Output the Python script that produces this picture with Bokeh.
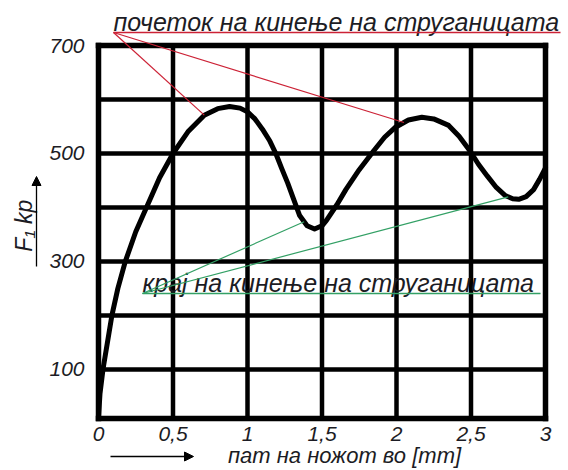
import numpy as np
from bokeh.plotting import figure
from bokeh.models import Range1d, FixedTicker, Label, Arrow, NormalHead
from bokeh.embed import file_html
from bokeh.resources import INLINE

# Cutting force F1 [kp] versus tool path [mm]
path_mm = [0.00, 0.01, 0.03, 0.06, 0.09, 0.13, 0.18, 0.25, 0.33, 0.41, 0.50,
           0.60, 0.71, 0.80, 0.88, 0.95, 1.00, 1.05, 1.10, 1.15, 1.19, 1.23,
           1.27, 1.31, 1.35, 1.40, 1.45, 1.50, 1.53, 1.60, 1.66, 1.75, 1.85,
           1.92, 1.99, 2.08, 2.17, 2.25, 2.35, 2.42, 2.49, 2.55, 2.61, 2.67,
           2.73, 2.78, 2.82, 2.87, 2.92, 2.96, 3.00]
force_kp = [10, 55, 100, 150, 200, 250, 300, 355, 405, 455, 500,
            540, 571, 583, 587, 584, 577, 564, 545, 523, 500, 472,
            445, 415, 385, 366, 360, 366, 376, 405, 433, 470, 506,
            530, 548, 562, 567, 564, 552, 532, 506, 480, 458, 437,
            422, 416, 415, 420, 433, 452, 473]

x_ticks = [0, 0.5, 1, 1.5, 2, 2.5, 3]
x_tick_labels = ["0", "0,5", "1", "1,5", "2", "2,5", "3"]
y_ticks = [100, 200, 300, 400, 500, 600, 700]
y_tick_labels = ["100", "", "300", "", "500", "", "700"]

# where the chip starts / stops tearing (points on the curve)
tear_start_at = [0.71, 2.05]
tear_end_at = [1.38, 2.75]

title_start = "почеток на кинење на струганицата"
title_end = "крај на кинење на струганицата"
x_title = "пат на ножот во [mm]"
y_title = "F₁  kp"

# ---- layout -------------------------------------------------------------
W, H = 568, 470
GX0, GX1, GY0, GY1 = 98, 545, 45, 418      # grid box in canvas pixels
X_MIN, X_MAX = x_ticks[0], x_ticks[-1]
Y_MIN, Y_MAX = 9, y_ticks[-1]               # bottom edge of the grid box
sx = (X_MAX - X_MIN) / (GX1 - GX0)          # data units per pixel
sy = (Y_MAX - Y_MIN) / (GY1 - GY0)
x_range = Range1d(X_MIN - GX0 * sx, X_MAX + (W - GX1) * sx)
y_range = Range1d(Y_MIN - (H - GY1) * sy, Y_MAX + GY0 * sy)


def dx(px):
    return x_range.start + px * sx


def dy(py):
    return y_range.end - py * sy


FONT = "Liberation Sans"
TXT = "#1c1c24"
RED = "#cc2236"
GREEN = "#33a065"

p = figure(width=W, height=H, x_range=x_range, y_range=y_range,
           output_backend="svg", toolbar_location=None,
           min_border=0, min_border_left=0, min_border_right=0,
           min_border_top=0, min_border_bottom=0)
p.background_fill_color = "white"
p.border_fill_color = "white"
p.outline_line_color = None
p.grid.visible = False

p.xaxis.ticker = FixedTicker(ticks=x_ticks)
p.yaxis.ticker = FixedTicker(ticks=y_ticks)
p.xaxis.fixed_location = Y_MIN
p.yaxis.fixed_location = X_MIN
p.xaxis.bounds = (X_MIN, X_MAX)
p.yaxis.bounds = (Y_MIN, Y_MAX)
p.xaxis.major_label_overrides = {t: l for t, l in zip(x_ticks, x_tick_labels)}
p.yaxis.major_label_overrides = {t: l for t, l in zip(y_ticks, y_tick_labels)}
for ax in (p.xaxis, p.yaxis):
    ax.axis_line_color = None
    ax.major_tick_line_color = None
    ax.minor_tick_line_color = None
    ax.major_label_text_font = FONT
    ax.major_label_text_font_style = "italic"
    ax.major_label_text_font_size = "21px"
    ax.major_label_text_color = TXT
p.xaxis.major_label_standoff = 2
p.yaxis.major_label_standoff = 8

# grid lines (from the tick arrays) and the box
inner_x = x_ticks[1:-1]
inner_y = y_ticks[:-1]
p.segment(x0=inner_x, y0=[Y_MIN] * len(inner_x), x1=inner_x, y1=[Y_MAX] * len(inner_x),
          line_color="black", line_width=4.5)
p.segment(x0=[X_MIN] * len(inner_y), y0=inner_y, x1=[X_MAX] * len(inner_y), y1=inner_y,
          line_color="black", line_width=4.5)
p.segment(x0=[X_MIN, X_MAX, X_MIN, X_MIN], y0=[Y_MIN, Y_MIN, Y_MIN, Y_MAX],
          x1=[X_MIN, X_MAX, X_MAX, X_MAX], y1=[Y_MAX, Y_MAX, Y_MIN, Y_MAX],
          line_color="black", line_width=5.5, line_cap="square")

p.line(path_mm, force_kp, line_color="black", line_width=5, line_join="round",
       line_cap="round")

# start-of-tearing note
ax0, ay0 = dx(113), dy(32)
p.add_layout(Label(x=ax0, y=dy(21), text=title_start, text_font=FONT,
                   text_font_style="italic", text_font_size="25px",
                   text_color=TXT, text_baseline="alphabetic"))
p.add_layout(Arrow(x_start=ax0, y_start=ay0, x_end=dx(560), y_end=ay0, end=None,
                   line_color=RED, line_width=1.5))
for xa in tear_start_at:
    ya = float(np.interp(xa, path_mm, force_kp))
    p.add_layout(Arrow(x_start=ax0, y_start=ay0, x_end=xa, y_end=ya, end=None,
                       line_color=RED, line_width=1.2))

# end-of-tearing note
bx0, by0 = dx(142), dy(293)
p.add_layout(Label(x=bx0, y=dy(282), text=title_end, text_font=FONT,
                   text_font_style="italic", text_font_size="25px",
                   text_color=TXT, text_baseline="alphabetic"))
p.add_layout(Arrow(x_start=bx0, y_start=by0, x_end=dx(540), y_end=by0, end=None,
                   line_color=GREEN, line_width=1.5))
for xa in tear_end_at:
    ya = float(np.interp(xa, path_mm, force_kp))
    p.add_layout(Arrow(x_start=bx0, y_start=by0, x_end=xa, y_end=ya, end=None,
                       line_color=GREEN, line_width=1.2))

# axis titles
p.add_layout(Label(x=dx(344), y=dy(455), text=x_title, text_font=FONT,
                   text_font_style="italic", text_font_size="22px",
                   text_color=TXT, text_align="center", text_baseline="middle"))
p.add_layout(Arrow(x_start=dx(110), y_start=dy(456), x_end=dx(193), y_end=dy(456),
                   end=NormalHead(size=9, fill_color="black", line_color="black"),
                   line_color="black", line_width=1.3))

p.add_layout(Label(x=dx(23), y=dy(222), text=y_title, text_font=FONT,
                   text_font_style="italic", text_font_size="23px",
                   text_color=TXT, text_align="center", text_baseline="middle",
                   angle=np.pi / 2))
p.add_layout(Arrow(x_start=dx(36), y_start=dy(266), x_end=dx(36), y_end=dy(176),
                   end=NormalHead(size=9, fill_color="black", line_color="black"),
                   line_color="black", line_width=1.3))

open("out.html", "w").write(file_html(p, INLINE))
